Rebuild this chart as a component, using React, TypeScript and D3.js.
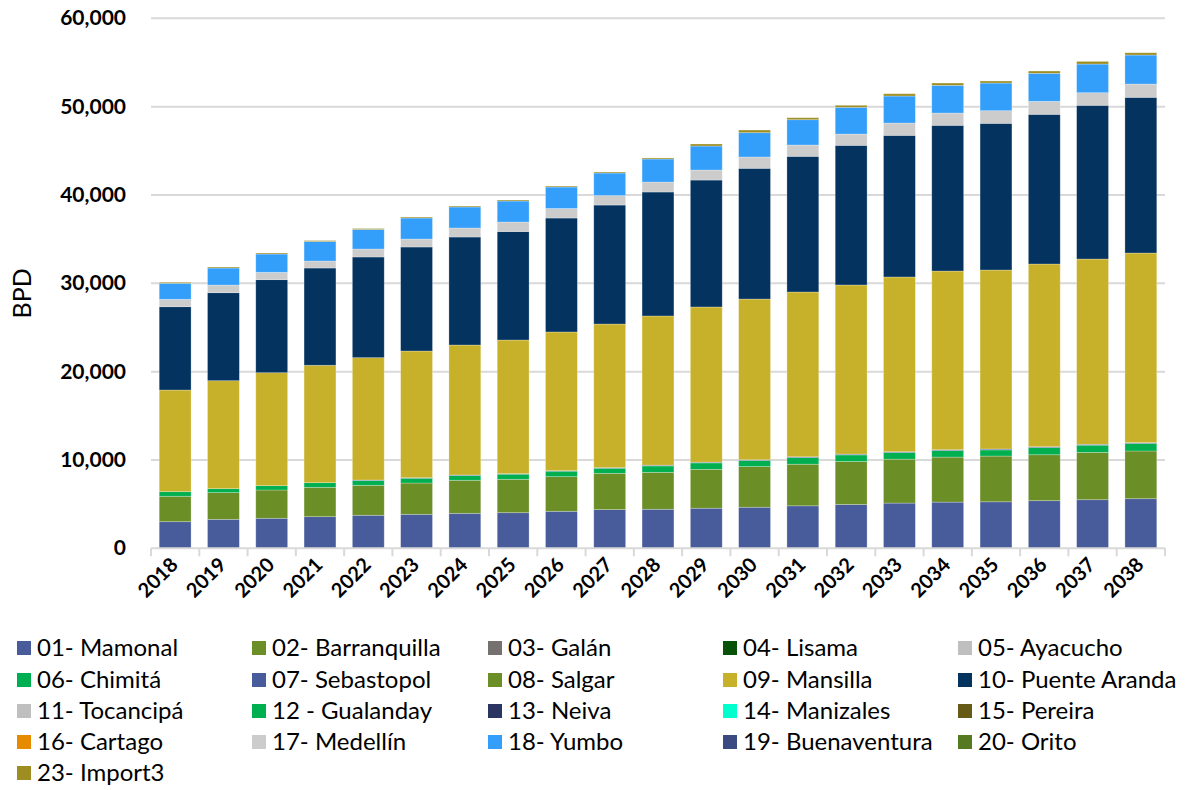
import { useEffect, useRef } from 'react'
import * as d3 from 'd3'

const years = [
  '2018', '2019', '2020', '2021', '2022', '2023', '2024', '2025', '2026', '2027', '2028',
  '2029', '2030', '2031', '2032', '2033', '2034', '2035', '2036', '2037', '2038',
]

// BPD per terminal
const mamonal = [3010, 3280, 3400, 3580, 3740, 3850, 3960, 4030, 4190, 4380, 4420, 4540, 4650, 4810, 4960, 5120, 5230, 5265, 5390, 5500, 5615]
const barranquilla = [2880, 3020, 3200, 3325, 3390, 3540, 3740, 3780, 3920, 4110, 4180, 4400, 4600, 4710, 4870, 4970, 5095, 5175, 5200, 5360, 5400]
const chimita = [520, 450, 490, 525, 540, 540, 540, 580, 620, 570, 730, 730, 690, 750, 745, 755, 745, 700, 810, 815, 850]
const sebastopol = [0, 0, 0, 0, 60, 60, 60, 60, 60, 70, 80, 80, 80, 90, 90, 90, 90, 100, 100, 100, 100]
const mansilla = [11510, 12225, 12790, 13290, 13850, 14345, 14715, 15130, 15700, 16260, 16890, 17570, 18200, 18655, 19145, 19780, 20230, 20265, 20685, 20975, 21465]
const puenteAranda = [9430, 9960, 10530, 11010, 11400, 11775, 12225, 12280, 12900, 13470, 14035, 14370, 14800, 15360, 15810, 16035, 16495, 16605, 16945, 17400, 17625]
const medellin = [840, 865, 835, 790, 900, 900, 1020, 1080, 1075, 1075, 1130, 1135, 1280, 1280, 1280, 1395, 1390, 1430, 1470, 1425, 1505]
const yumbo = [1810, 1930, 2070, 2210, 2210, 2380, 2380, 2375, 2435, 2550, 2605, 2715, 2750, 2865, 3020, 3055, 3135, 3130, 3170, 3245, 3280]
const import3 = [110, 115, 115, 110, 110, 110, 110, 115, 110, 115, 120, 230, 300, 225, 230, 260, 260, 230, 260, 300, 260]

const legendNames = [
  '01- Mamonal', '02- Barranquilla', '03- Galán', '04- Lisama', '05- Ayacucho',
  '06- Chimitá', '07- Sebastopol', '08- Salgar', '09- Mansilla', '10- Puente Aranda',
  '11- Tocancipá', '12 - Gualanday', '13- Neiva', '14- Manizales', '15- Pereira',
  '16- Cartago', '17- Medellín', '18- Yumbo', '19- Buenaventura', '20- Orito',
  '23- Import3',
]
const legendColors = [
  '#485C9C', '#6B8E27', '#767171', '#075208', '#BFBFBF',
  '#00B050', '#485C9C', '#6B8E27', '#C8B12A', '#03335E',
  '#BFBFBF', '#00B050', '#2B3561', '#00FFCC', '#655A16',
  '#E68A00', '#CCCCCC', '#349FFA', '#3B4A80', '#557A22',
  '#9E8E22',
]

const stackKeys = ['01- Mamonal', '02- Barranquilla', '06- Chimitá', '07- Sebastopol', '09- Mansilla', '10- Puente Aranda', '17- Medellín', '18- Yumbo', '23- Import3']
const stackValues = [mamonal, barranquilla, chimita, sebastopol, mansilla, puenteAranda, medellin, yumbo, import3]

const yTicks = [0, 10000, 20000, 30000, 40000, 50000, 60000]

export default function App() {
  const ref = useRef<SVGSVGElement | null>(null)

  useEffect(() => {
    if (!ref.current) return
    document.body.style.margin = '0'

    const svg = d3.select(ref.current)
    svg.selectAll('*').remove()

    const font = 'Lato, "Open Sans", sans-serif'
    const left = 151
    const right = 1165

    const x = d3
      .scaleBand()
      .domain(years)
      .range([left, right])
      .paddingInner(0.34)
      .paddingOuter(0.17)

    const y = d3.scaleLinear().domain([0, 60000]).range([548.3, 18.3])

    // gridlines
    svg
      .append('g')
      .selectAll('line')
      .data(yTicks.filter((t) => t > 0))
      .join('line')
      .attr('x1', left)
      .attr('x2', right)
      .attr('y1', (d) => y(d))
      .attr('y2', (d) => y(d))
      .attr('stroke', '#D9D9D9')
      .attr('stroke-width', 2)

    svg
      .append('g')
      .selectAll('text')
      .data(yTicks)
      .join('text')
      .attr('x', 126)
      .attr('y', (d) => y(d) + 7)
      .attr('text-anchor', 'end')
      .attr('font-family', font)
      .attr('font-size', 21)
      .attr('font-weight', 700)
      .attr('fill', '#000')
      .text((d) => d3.format(',')(d))

    svg
      .append('text')
      .attr('transform', `translate(31,${y(30000) + 10}) rotate(-90)`)
      .attr('text-anchor', 'middle')
      .attr('font-family', font)
      .attr('font-size', 25)
      .attr('fill', '#000')
      .text('BPD')

    const table = years.map((yr, i) => {
      const row: Record<string, number | string> = { year: yr }
      stackKeys.forEach((k, j) => (row[k] = stackValues[j][i]))
      return row
    })
    const stacked = d3.stack<Record<string, number | string>>().keys(stackKeys)(table as any)
    const colorOf = (k: string) => legendColors[legendNames.indexOf(k)]

    svg
      .append('g')
      .selectAll('g')
      .data(stacked)
      .join('g')
      .attr('fill', (d) => colorOf(d.key))
      .selectAll('rect')
      .data((d) => d)
      .join('rect')
      .attr('x', (d) => x(d.data.year as string) ?? 0)
      .attr('width', x.bandwidth())
      .attr('y', (d) => y(d[1]))
      .attr('height', (d) => Math.max(0, y(d[0]) - y(d[1])))
      .attr('stroke', 'rgba(255,255,255,0.35)')
      .attr('stroke-width', 0.75)

    // category axis
    const axis = svg.append('g')
    axis
      .append('line')
      .attr('x1', left)
      .attr('x2', right)
      .attr('y1', y(0))
      .attr('y2', y(0))
      .attr('stroke', '#D9D9D9')
      .attr('stroke-width', 2)
    const step = x.step()
    axis
      .selectAll('.tick')
      .data(d3.range(years.length + 1))
      .join('line')
      .attr('class', 'tick')
      .attr('x1', (i) => left + i * step)
      .attr('x2', (i) => left + i * step)
      .attr('y1', y(0))
      .attr('y2', y(0) + 8)
      .attr('stroke', '#D9D9D9')
      .attr('stroke-width', 2)

    axis
      .selectAll('.yr')
      .data(years)
      .join('text')
      .attr('class', 'yr')
      .attr('transform', (d) => `translate(${(x(d) ?? 0) + x.bandwidth() / 2 + 4},${566}) rotate(-45)`)
      .attr('text-anchor', 'end')
      .attr('font-family', font)
      .attr('font-size', 20)
      .attr('font-weight', 700)
      .attr('fill', '#000')
      .text((d) => d)

    // legend
    const cols = [17, 252, 488, 723, 958]
    const rows = [648, 680, 711, 742, 773]
    const lg = svg
      .append('g')
      .selectAll('g')
      .data(legendNames)
      .join('g')
      .attr('transform', (_, i) => `translate(${cols[i % 5]},${rows[Math.floor(i / 5)]})`)
    lg.append('rect')
      .attr('x', 0)
      .attr('y', -7)
      .attr('width', 14)
      .attr('height', 14)
      .attr('fill', (_, i) => legendColors[i])
    lg.append('text')
      .attr('x', 20)
      .attr('y', 8)
      .attr('font-family', font)
      .attr('font-size', 24)
      .attr('fill', '#000')
      .text((d) => d)
  }, [])

  return <svg ref={ref} width={1186} height={790} style={{ display: 'block' }} />
}
